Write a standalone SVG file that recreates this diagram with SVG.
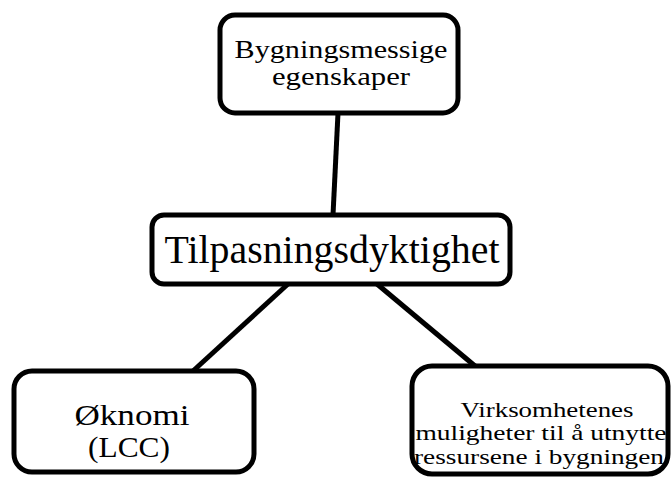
<svg xmlns="http://www.w3.org/2000/svg" width="672" height="479" viewBox="0 0 672 479">
<style>
.box{fill:#fff;stroke:#000;stroke-width:5}
.t{font-family:"Liberation Serif","Times New Roman",serif;fill:#000;text-anchor:middle}
.c{stroke:#000;stroke-width:5;fill:none}
</style>
<rect width="672" height="479" fill="#fff"/>
<g id="connectors">
<line class="c" x1="338" y1="113" x2="333" y2="215"/>
<line class="c" x1="288" y1="284" x2="193" y2="371"/>
<line class="c" x1="377" y1="284" x2="475" y2="366"/>
</g>
<g id="node-top">
<rect class="box" x="220" y="15" width="238" height="98" rx="15"/>
<text class="t" x="341" y="58" font-size="25" textLength="213" lengthAdjust="spacingAndGlyphs">Bygningsmessige</text>
<text class="t" x="341" y="85" font-size="25" textLength="138" lengthAdjust="spacingAndGlyphs">egenskaper</text>
</g>
<g id="node-center">
<rect class="box" x="152" y="215" width="358" height="69" rx="12"/>
<text class="t" x="332" y="263" font-size="39" textLength="335" lengthAdjust="spacingAndGlyphs">Tilpasningsdyktighet</text>
</g>
<g id="node-left">
<rect class="box" x="14" y="371" width="240" height="101" rx="18"/>
<text class="t" x="132" y="425" font-size="30" textLength="115" lengthAdjust="spacingAndGlyphs">Øknomi</text>
<text class="t" x="129" y="457" font-size="30" textLength="82" lengthAdjust="spacingAndGlyphs">(LCC)</text>
</g>
<g id="node-right">
<rect class="box" x="412" y="366" width="256" height="108" rx="20"/>
<text class="t" x="547" y="417" font-size="21" textLength="173" lengthAdjust="spacingAndGlyphs">Virksomhetenes</text>
<text class="t" x="541" y="440" font-size="21" textLength="251" lengthAdjust="spacingAndGlyphs">muligheter til å utnytte</text>
<text class="t" x="539" y="464" font-size="21" textLength="250" lengthAdjust="spacingAndGlyphs">ressursene i bygningen</text>
</g>
</svg>
